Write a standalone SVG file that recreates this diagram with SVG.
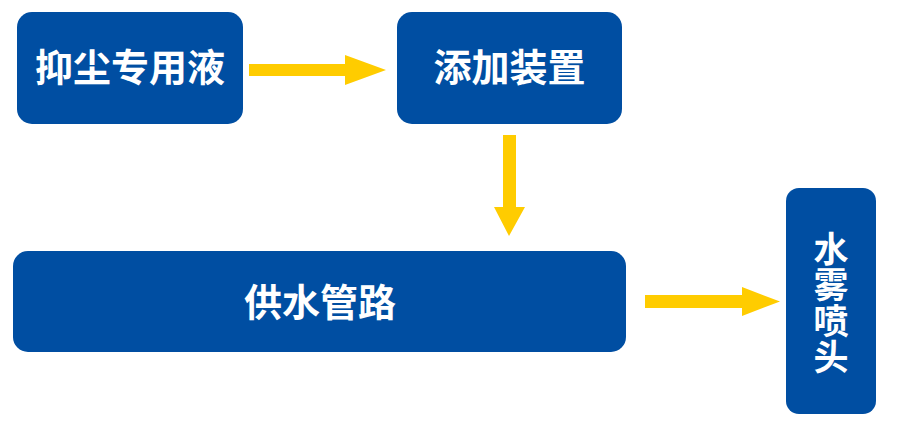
<svg xmlns="http://www.w3.org/2000/svg" width="900" height="435" viewBox="0 0 900 435">
<style>
.box{fill:#004EA2}
.lbl{fill:#fff;font-family:"Noto Sans CJK SC","Noto Sans",sans-serif;font-weight:bold;text-anchor:middle}
.arr{fill:#FFCC00}
</style>
<rect width="900" height="435" fill="#fff"/>
<g id="connectors">
<polygon class="arr" points="249,64 345,64 345,55 386,70 345,85 345,76 249,76"/>
<polygon class="arr" points="503,135 516,135 516,207 525,207 509,236 494,207 503,207"/>
<polygon class="arr" points="645,295 742,295 742,287 780,301.5 742,316 742,308 645,308"/>
</g>
<g id="node-1">
<rect class="box" x="17" y="12" width="226" height="112" rx="15"/>
<text class="lbl" x="130" y="81" font-size="38">抑尘专用液</text>
</g>
<g id="node-2">
<rect class="box" x="397" y="12" width="225" height="112" rx="15"/>
<text class="lbl" x="509.5" y="81" font-size="38">添加装置</text>
</g>
<g id="node-3">
<rect class="box" x="13" y="251" width="613" height="101" rx="15"/>
<text class="lbl" x="320" y="316" font-size="38">供水管路</text>
</g>
<g id="node-4">
<rect class="box" x="786" y="188" width="90" height="226" rx="13"/>
<text class="lbl" x="831" y="303" font-size="35" writing-mode="vertical-rl" letter-spacing="1">水雾喷头</text>
</g>
</svg>
